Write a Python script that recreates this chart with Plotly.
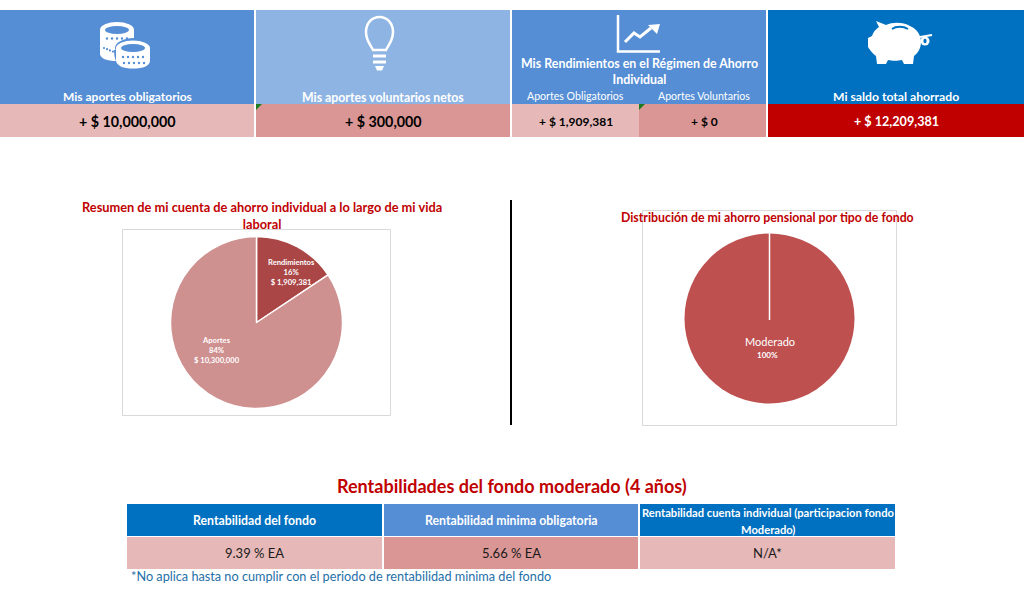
import plotly.graph_objects as go

# Data
tile_titles = ["Mis aportes obligatorios", "Mis aportes voluntarios netos", "Mi saldo total ahorrado"]
tile_values = ["+ $ 10,000,000", "+ $ 300,000", "+ $ 12,209,381"]
rend_title = "Mis Rendimientos en el Régimen de Ahorro<br>Individual"
rend_labels = ["Aportes Obligatorios", "Aportes Voluntarios"]
rend_values = ["+ $ 1,909,381", "+ $ 0"]

resumen_labels = ["Rendimientos", "Aportes"]
resumen_values = [1909381, 10300000]
resumen_pct = ["16%", "84%"]
resumen_money = ["$ 1,909,381", "$ 10,300,000"]

fondo_labels = ["Moderado"]
fondo_values = [100]
fondo_pct = ["100%"]

table_headers = ["Rentabilidad del fondo", "Rentabilidad minima obligatoria",
                 "Rentabilidad cuenta individual (participacion fondo", "Moderado)"]
table_values = ["9.39 % EA", "5.66 % EA", "N/A*"]

W, H = 1027, 589
FONT = "Lato"
BLUE = "#558ED5"
LIGHT = "#8EB4E3"
DARK = "#0070C0"
PINK = "#E6B9B8"
ROSE = "#D99694"
RED = "#C00000"

fig = go.Figure()

# Invisible trace so the pixel axes stay active
fig.add_trace(go.Scatter(x=[0, W], y=[0, H], mode="markers", marker_opacity=0, hoverinfo="skip", showlegend=False))


def rect(x0, y0, x1, y1, fill, line=None):
    fig.add_shape(type="rect", x0=x0, y0=y0, x1=x1, y1=y1, fillcolor=fill, layer="below",
                  line=dict(color=line, width=1) if line else dict(width=0))


def path(d, fill=None, stroke=None, width=0):
    fig.add_shape(type="path", path=d, fillcolor=fill or "rgba(0,0,0,0)", layer="above",
                  line=dict(color=stroke, width=width) if stroke else dict(width=0))


def ellipse(cx, cy, rx, ry, fill):
    fig.add_shape(type="circle", x0=cx - rx, x1=cx + rx, y0=cy - ry, y1=cy + ry, fillcolor=fill,
                  layer="above", line=dict(width=0))


def text(x, y, s, size, color, bold=False, xanchor="center"):
    fig.add_annotation(x=x, y=y, text=f"<b>{s}</b>" if bold else s, showarrow=False, xanchor=xanchor,
                       yanchor="middle", font=dict(family=FONT, size=size, color=color), align="center")


# Top tiles
rect(0, 10, 254, 104, BLUE)
rect(256, 10, 510, 104, LIGHT)
rect(512, 10, 766, 104, BLUE)
rect(768, 10, 1024, 104, DARK)
rect(0, 104, 254, 137, PINK)
rect(256, 104, 510, 137, ROSE)
rect(512, 104, 639, 137, PINK)
rect(639, 104, 766, 137, ROSE)
rect(768, 104, 1024, 137, RED)

# Little green cell markers
path("M256,104 L262,104 L256,110 Z", fill="#1E7B1E")
path("M639,104 L645,104 L639,110 Z", fill="#1E7B1E")

text(127.5, 96, tile_titles[0], 12, "white", True)
text(383, 97, tile_titles[1], 12.3, "white", True)
text(896, 96, tile_titles[2], 12.2, "white", True)
text(127.5, 121, tile_values[0], 14.3, "black", True)
text(383, 121, tile_values[1], 14.3, "black", True)
text(896, 121, tile_values[2], 12.6, "white", True)
text(639, 71, rend_title, 12.4, "white", True)
text(575.5, 96, rend_labels[0], 10.6, "white")
text(704, 96, rend_labels[1], 10.6, "white")
text(575.5, 121, rend_values[0], 12, "black", True)
text(704, 121, rend_values[1], 12, "black", True)

# Coins icon
ellipse(117, 30, 17, 8, "white")
path("M100,30 L100,54 Q101,61 117,61 L128,61 L134,50 L134,30 Z", fill="white")
ellipse(117, 30, 12, 4, BLUE)
for i in range(5):
    ellipse(107 + i * 5, 38.5, 1.2, 1.2, BLUE)
    ellipse(104 + i * 3, 48 + i * 1.2, 1.1, 1.1, BLUE)
ellipse(134, 48, 19, 10, BLUE)
path("M114,50 Q114,71 133,71 Q154,71 154,50 Z", fill=BLUE)
ellipse(133, 48, 17, 7.5, "white")
path("M116,48 L116,61 Q118,68.5 133,68.5 Q149,68.5 150,61 L150,48 Z", fill="white")
ellipse(133, 48, 12, 4, BLUE)
for i in range(5):
    ellipse(123 + i * 5, 57, 1.2, 1.2, BLUE)
    ellipse(124 + i * 5, 63, 1.2, 1.2, BLUE)

# Bulb icon
path("M373,50 C368,41 366,38 366,32 C366,23 372,17 379.5,17 C387,17 393,23 393,32 "
     "C393,38 391,41 386,50 Z", stroke="white", width=2.5)
fig.add_shape(type="line", x0=373, x1=386, y0=56, y1=56, line=dict(color="white", width=3), layer="above")
fig.add_shape(type="line", x0=373, x1=386, y0=62, y1=62, line=dict(color="white", width=3), layer="above")
path("M375,66 L384,66 L382,70.5 L377,70.5 Z", fill="white")

# Growth chart icon
path("M618,15 L618,51.5 L660,51.5", stroke="white", width=2.5)
path("M625,42 L634,33 L640,37 L651,28", stroke="white", width=3)
path("M648,25 L660,24 L657,34 Z", fill="white")

# Piggy bank icon
path("M876,21 L886,25 C893,22 903,22 910,26 C917,29 921,35 921,42 C921,48 918,53 914,56 L913,64 "
     "L904,64 L902,60 C898,61 892,61 888,60 L886,64 L877,64 L876,56 C873,54 870,50 868,47 "
     "L868,38 L872,36 C873,32 876,29 879,27 Z", fill="white")
path("M892,29 C896,26 903,26 908,29", stroke=DARK, width=2)
path("M920,37 L932,35", stroke="white", width=2)
ellipse(925, 41, 4.5, 4.5, "white")
ellipse(925, 41, 1.6, 2.2, DARK)

# Chart frames and divider
rect(122.5, 229.5, 390.5, 415.5, "white", "#D9D9D9")
rect(642.5, 210.5, 896.5, 425.5, "white", "#D9D9D9")
fig.add_shape(type="line", x0=511, x1=511, y0=200, y1=425, line=dict(color="black", width=2))

# Chart titles
text(262, 215, "Resumen de mi cuenta de ahorro individual a lo largo de mi vida<br>laboral", 12.8, RED, True)
text(767.5, 217, "Distribución de mi ahorro pensional por tipo de fondo", 12.3, RED, True)

# Pies
fig.add_trace(go.Pie(labels=resumen_labels, values=resumen_values, sort=False, direction="clockwise",
                     rotation=0, textinfo="none", hoverinfo="label+percent", showlegend=False,
                     marker=dict(colors=["#AB4646", "#CF9090"], line=dict(color="white", width=1.5)),
                     domain=dict(x=[(256.5 - 86) / W, (256.5 + 86) / W], y=[1 - (322.5 + 86) / H, 1 - (322.5 - 86) / H])))
fig.add_trace(go.Pie(labels=fondo_labels, values=fondo_values, sort=False, textinfo="none",
                     hoverinfo="label+percent", showlegend=False,
                     marker=dict(colors=["#BE5050"], line=dict(width=0)),
                     domain=dict(x=[(769.5 - 85) / W, (769.5 + 85) / W], y=[1 - (318.5 + 85) / H, 1 - (318.5 - 85) / H])))
fig.add_shape(type="line", x0=769.5, x1=769.5, y0=233, y1=320, line=dict(color="white", width=1.5), layer="above")

text(291.5, 272, f"{resumen_labels[0]}<br>{resumen_pct[0]}<br>{resumen_money[0]}", 7.6, "white", True)
text(217, 350, f"{resumen_labels[1]}<br>{resumen_pct[1]}<br>{resumen_money[1]}", 7.6, "white", True)
text(769.5, 341, fondo_labels[0], 11, "white")
text(767, 355, fondo_pct[0], 8, "white", True)

# Returns table
text(512, 486, "Rentabilidades del fondo moderado (4 años)", 18, RED, True)
rect(127, 504, 382, 536, DARK)
rect(384, 504, 638, 536, BLUE)
rect(640, 504, 895, 536, DARK)
rect(127, 537, 382, 569, PINK)
rect(384, 537, 638, 569, ROSE)
rect(640, 537, 895, 569, PINK)
text(254.5, 520.5, table_headers[0], 12.3, "white", True)
text(511, 520.5, table_headers[1], 12.3, "white", True)
text(767.5, 512, table_headers[2], 11.2, "white", True)
text(767.5, 529, table_headers[3], 11.2, "white", True)
text(254.5, 553, table_values[0], 13, "#1A1A1A")
text(511, 553, table_values[1], 13, "#1A1A1A")
text(767.5, 553, table_values[2], 13, "#1A1A1A")
text(129, 576, "*No aplica hasta no cumplir con el periodo de rentabilidad minima del fondo", 12.7, "#1F6FA8",
     xanchor="left")

fig.update_layout(
    width=W, height=H,
    margin=dict(l=0, r=0, t=0, b=0),
    paper_bgcolor="white", plot_bgcolor="rgba(0,0,0,0)",
    xaxis=dict(range=[0, W], visible=False, fixedrange=True),
    yaxis=dict(range=[H, 0], visible=False, fixedrange=True),
    showlegend=False,
)

fig.write_html("out.html", config=dict(displayModeBar=False), post_script="document.body.style.margin='0';")
